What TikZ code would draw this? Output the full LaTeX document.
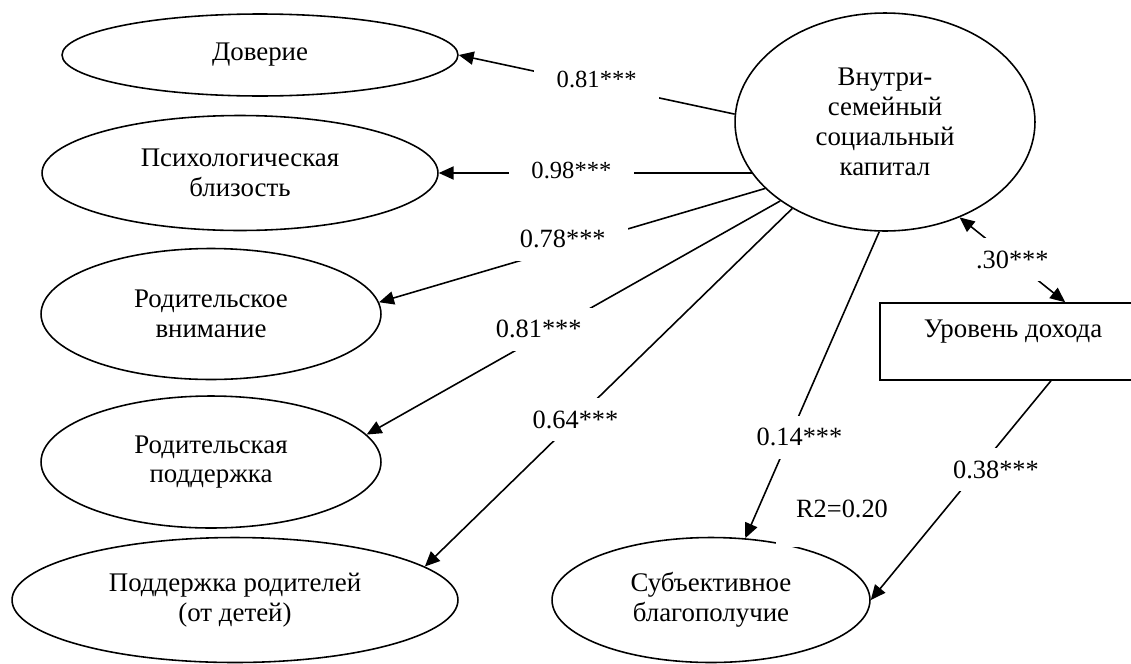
\documentclass[tikz,border=0pt]{standalone}
\usepackage{fontspec}
\setmainfont{Liberation Serif}
\usetikzlibrary{shapes.geometric, arrows.meta}

\tikzset{
  latent/.style = {draw, ellipse, line width=0.9pt, inner sep=0pt, align=center,
                   font=\fontsize{15.3}{17}\selectfont},
  observed/.style = {draw, rectangle, line width=0.9pt, inner sep=0pt,
                     font=\fontsize{15.3}{17}\selectfont},
  coef/.style = {fill=white, inner xsep=0.45cm, inner ysep=0.25cm,
                 font=\fontsize{15}{17}\selectfont},
  coefsmall/.style = {coef, font=\fontsize{14}{16}\selectfont},
  load/.style = {line width=0.9pt, -{Triangle[length=8.5pt,width=7.5pt]}},
  corr/.style = {line width=0.9pt, {Triangle[length=8.5pt,width=7.5pt]}-{Triangle[length=8.5pt,width=7.5pt]}}
}

\begin{document}
\begin{tikzpicture}[x=0.02cm, y=-0.02cm]
  \clip (0,0) rectangle (1131,663);

  % indicators
  \node[latent, minimum width=7.92cm, minimum height=1.64cm] (trust) at (260,55) {Доверие};
  \node[latent, minimum width=7.92cm, minimum height=2.3cm] (close) at (240,173) {Психологическая\\близость};
  \node[latent, minimum width=6.8cm, minimum height=2.62cm] (attn) at (211,314) {Родительское\\внимание};
  \node[latent, minimum width=6.8cm, minimum height=2.64cm] (supp) at (211,462) {Родительская\\поддержка};
  \node[latent, minimum width=8.92cm, minimum height=2.5cm] (back) at (235,600) {Поддержка родителей\\(от детей)};

  \node[latent, minimum width=6cm, minimum height=4.36cm] (cap) at (885,122) {Внутри-\\семейный\\социальный\\капитал};
  \node[latent, minimum width=6.36cm, minimum height=2.5cm] (well) at (711,600) {Субъективное\\благополучие};
  \node[observed, minimum width=5.32cm, text height=0.68cm, text depth=0.86cm] (inc) at (1013,341.5) {Уровень дохода};

  % loadings
  \draw[load] (cap.177) -- node[coefsmall, pos=0.5, yshift=0.1cm] {0.81***} (trust.east);
  \draw[load] (cap.201 |- close.east) -- node[coefsmall, pos=0.576, yshift=0.06cm] {0.98***} (close.east);
  \draw[load] (cap.209) -- node[coef, pos=0.524, yshift=0.18cm] {0.78***} (attn.4);
  \draw[load] (cap.217) -- node[coef, pos=0.584, yshift=0.16cm] {0.81***} (supp.10);
  \draw[load] (cap.223) -- node[coef, pos=0.59] {0.64***} (back.10);

  % paths
  \draw[load] (cap.267) -- node[coef, pos=0.67, xshift=0.2cm] {0.14***} (well.61);
  \draw[corr] (cap.308) -- node[coef, pos=0.5] {.30***} (inc.37);
  \draw[load] (inc.314) -- node[coef, pos=0.405, xshift=0.36cm] {0.38***} (well.east);

  \node[coef, inner xsep=0.4cm, inner ysep=0.1cm, text depth=0.5cm, anchor=base] (rsq) at (842,517) {R2=0.20};
\end{tikzpicture}
\end{document}
